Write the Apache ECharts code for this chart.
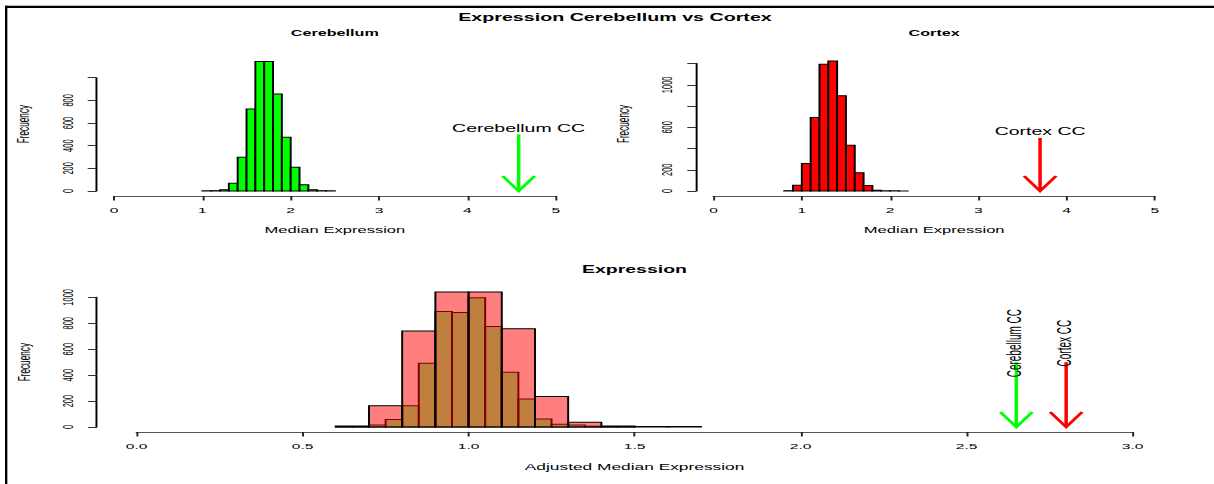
<!DOCTYPE html>
<html>
<head>
<meta charset="utf-8">
<script src="https://cdn.jsdelivr.net/npm/echarts@6/dist/echarts.min.js"></script>
<style>
html,body{margin:0;padding:0;background:#fff;overflow:hidden;width:1214px;height:484px;}
#c{width:623px;height:484px;transform:scaleX(1.94864);transform-origin:0 0;}
</style>
</head>
<body>
<div id="c"></div>
<script>
// ---------------- data ----------------
const mainTitle = 'Expression Cerebellum vs Cortex';
const panelTitles = ['Cerebellum', 'Cortex', 'Expression'];
const xNames = ['Median Expression', 'Median Expression', 'Adjusted Median Expression'];
const yName = 'Frecuency';

const cerebBreaks = [1.0,1.1,1.2,1.3,1.4,1.5,1.6,1.7,1.8,1.9,2.0,2.1,2.2,2.3,2.4,2.5];
const cerebCounts = [2,3,12,68,297,724,1144,1144,856,475,209,56,12,3,2];

const cortexBreaks = [0.8,0.9,1.0,1.1,1.2,1.3,1.4,1.5,1.6,1.7,1.8,1.9,2.0,2.1,2.2];
const cortexCounts = [3,53,259,693,1193,1224,897,432,171,52,6,2,2,1];

const adjCerebBreaks = [0.60,0.65,0.70,0.75,0.80,0.85,0.90,0.95,1.00,1.05,1.10,1.15,1.20,1.25,1.30,1.35,1.40,1.45,1.50];
const adjCerebCounts = [2,3,15,58,164,491,890,882,997,774,423,216,62,21,15,6,3,2];

const adjCortexBreaks = [0.6,0.7,0.8,0.9,1.0,1.1,1.2,1.3,1.4,1.5,1.6,1.7];
const adjCortexCounts = [8,164,740,1040,1040,758,235,36,8,3,3];

// arrows: [x, from y, to y]
const cerebArrow = [4.58, 500, 0];
const cortexArrow = [3.70, 500, 0];
const adjCerebArrow = [2.65, 500, 0];
const adjCortexArrow = [2.80, 500, 0];
const arrowLabels = ['Cerebellum CC', 'Cortex CC'];

// ticks
const topXTicks = [0,1,2,3,4,5];
const cerebYTicks = [0,200,400,600,800,1000];
const cerebYLabels = [0,200,400,600,800];
const cortexYTicks = [0,200,400,600,800,1000,1200];
const cortexYLabels = [0,200,600,1000];
const bottomXTicks = [0,0.5,1.0,1.5,2.0,2.5,3.0];
const bottomYTicks = [0,200,400,600,800,1000];
const bottomYLabels = [0,200,400,600,800,1000];

// ---------------- helpers ----------------
const FONT = '"Liberation Sans", Arial, Helvetica, sans-serif';
function binData(breaks, counts){
  return counts.map((c,i)=>[breaks[i], breaks[i+1], c]);
}
function histRender(fill, stroke){
  return function(params, api){
    const lo = api.value(0), hi = api.value(1), c = api.value(2);
    const p0 = api.coord([lo, 0]);
    const p1 = api.coord([hi, c]);
    return {type:'rect', shape:{x:p0[0], y:p1[1], width:p1[0]-p0[0], height:p0[1]-p1[1]},
            style:{fill:fill, stroke:stroke, lineWidth:1}};
  };
}
function arrowRender(color, label, rotated){
  return function(params, api){
    const x = api.value(0), y0 = api.value(1), y1 = api.value(2);
    const p0 = api.coord([x, y0]);
    const p1 = api.coord([x, y1]);
    const hw = 8.2, hh = 15;
    const children = [
      {type:'line', shape:{x1:p0[0], y1:p0[1], x2:p1[0], y2:p1[1]}, style:{stroke:color, lineWidth:1.8}},
      {type:'polyline', shape:{points:[[p1[0]-hw, p1[1]-hh],[p1[0], p1[1]],[p1[0]+hw, p1[1]-hh]]},
       style:{stroke:color, lineWidth:1.8, fill:null}}
    ];
    if (rotated) {
      children.push({type:'text', x:p0[0]-1.2, y:p0[1]-19, rotation:Math.PI/2,
        style:{text:label, align:'center', verticalAlign:'middle', font:'10px ' + FONT, fill:'#000'}});
    } else {
      children.push({type:'text', x:p0[0], y:p0[1]-1,
        style:{text:label, align:'center', verticalAlign:'bottom', font:'10px ' + FONT, fill:'#000'}});
    }
    return {type:'group', children:children};
  };
}
function xAxisDef(gridIndex, ticks, name, nameSize, fmt){
  return {
    type:'value', gridIndex:gridIndex, position:'bottom', offset:5,
    min:ticks[0], max:ticks[ticks.length-1], interval:ticks[1]-ticks[0],
    name:name, nameLocation:'middle', nameGap:29.5,
    nameTextStyle:{fontFamily:FONT, fontSize:nameSize, color:'#000'},
    axisLine:{show:true, onZero:false, lineStyle:{color:'#555', width:1.2}},
    axisTick:{show:true, length:4.5, lineStyle:{color:'#222', width:1}},
    axisLabel:{margin:10.5, fontFamily:FONT, fontSize:8, color:'#000', formatter:fmt},
    splitLine:{show:false}
  };
}
function yAxisDef(gridIndex, ticks, shown, offset, namePad){
  return {
    type:'value', gridIndex:gridIndex, position:'left', offset:offset,
    min:ticks[0], max:ticks[ticks.length-1], interval:ticks[1]-ticks[0],
    name:yName, nameLocation:'middle', nameRotate:90, nameGap:33,
    nameTextStyle:{fontFamily:FONT, fontSize:8.2, color:'#000', padding:[0,0,0,namePad]},
    axisLine:{show:true, onZero:false, lineStyle:{color:'#000', width:1}},
    axisTick:{show:true, length:4.5, lineStyle:{color:'#333', width:1}},
    axisLabel:{margin:11, rotate:90, fontFamily:FONT, fontSize:7.5, color:'#000',
      formatter:function(v){ return shown.indexOf(v) >= 0 ? String(v) : ''; }},
    splitLine:{show:false}
  };
}

const chart = echarts.init(document.getElementById('c'), null, {renderer:'svg'});
const option = {
  backgroundColor:'#fff',
  animation:false,
  title:[
    {text:mainTitle, left:315.6, top:12.5, textAlign:'center', padding:0,
     textStyle:{fontFamily:FONT, fontWeight:'bold', fontSize:10.1, color:'#000'}},
    {text:panelTitles[0], left:171.8, top:28.8, textAlign:'center', padding:0,
     textStyle:{fontFamily:FONT, fontWeight:'bold', fontSize:8.3, color:'#000'}},
    {text:panelTitles[1], left:479.4, top:28.8, textAlign:'center', padding:0,
     textStyle:{fontFamily:FONT, fontWeight:'bold', fontSize:8.3, color:'#000'}},
    {text:panelTitles[2], left:325.6, top:264, textAlign:'center', padding:0,
     textStyle:{fontFamily:FONT, fontWeight:'bold', fontSize:10, color:'#000'}}
  ],
  grid:[
    {left:58.5, top:77.7, width:226.7, height:113.3, outerBoundsMode:'none'},
    {left:366.2, top:63.6, width:226.4, height:127.4, outerBoundsMode:'none'},
    {left:70.1, top:297.3, width:511.1, height:129.7, outerBoundsMode:'none'}
  ],
  xAxis:[
    xAxisDef(0, topXTicks, xNames[0], 8.5, function(v){return String(v);}),
    xAxisDef(1, topXTicks, xNames[1], 8.5, function(v){return String(v);}),
    Object.assign(xAxisDef(2, bottomXTicks, xNames[2], 8.9, function(v){return v.toFixed(1);}), {nameGap:30.5})
  ],
  yAxis:[
    yAxisDef(0, cerebYTicks, cerebYLabels, 9.0, 20.6),
    yAxisDef(1, cortexYTicks, cortexYLabels, 9.0, 6.6),
    yAxisDef(2, bottomYTicks, bottomYLabels, 20.4, 0)
  ],
  graphic:[
    {type:'rect', shape:{x:2.57, y:5.8, width:621, height:2.2}, style:{fill:'#000'}, silent:true},
    {type:'rect', shape:{x:2.57, y:5.8, width:1.2, height:480}, style:{fill:'#000'}, silent:true}
  ],
  series:[
    {type:'custom', xAxisIndex:0, yAxisIndex:0, clip:false, encode:{x:[0,1], y:2},
     data:binData(cerebBreaks, cerebCounts), renderItem:histRender('#00ff00', '#000')},
    {type:'custom', xAxisIndex:0, yAxisIndex:0, clip:false, encode:{x:0, y:[1,2]},
     data:[cerebArrow], renderItem:arrowRender('#00ff00', arrowLabels[0], false)},
    {type:'custom', xAxisIndex:1, yAxisIndex:1, clip:false, encode:{x:[0,1], y:2},
     data:binData(cortexBreaks, cortexCounts), renderItem:histRender('#ff0000', '#000')},
    {type:'custom', xAxisIndex:1, yAxisIndex:1, clip:false, encode:{x:0, y:[1,2]},
     data:[cortexArrow], renderItem:arrowRender('#ff0000', arrowLabels[1], false)},
    {type:'custom', xAxisIndex:2, yAxisIndex:2, clip:false, encode:{x:[0,1], y:2},
     data:binData(adjCerebBreaks, adjCerebCounts), renderItem:histRender('rgba(0,255,0,0.5)', '#000')},
    {type:'custom', xAxisIndex:2, yAxisIndex:2, clip:false, encode:{x:[0,1], y:2},
     data:binData(adjCortexBreaks, adjCortexCounts), renderItem:histRender('rgba(255,0,0,0.5)', '#000')},
    {type:'custom', xAxisIndex:2, yAxisIndex:2, clip:false, encode:{x:0, y:[1,2]},
     data:[adjCerebArrow], renderItem:arrowRender('#00ff00', arrowLabels[0], true)},
    {type:'custom', xAxisIndex:2, yAxisIndex:2, clip:false, encode:{x:0, y:[1,2]},
     data:[adjCortexArrow], renderItem:arrowRender('#ff0000', arrowLabels[1], true)}
  ]
};
chart.setOption(option);
</script>
</body>
</html>
